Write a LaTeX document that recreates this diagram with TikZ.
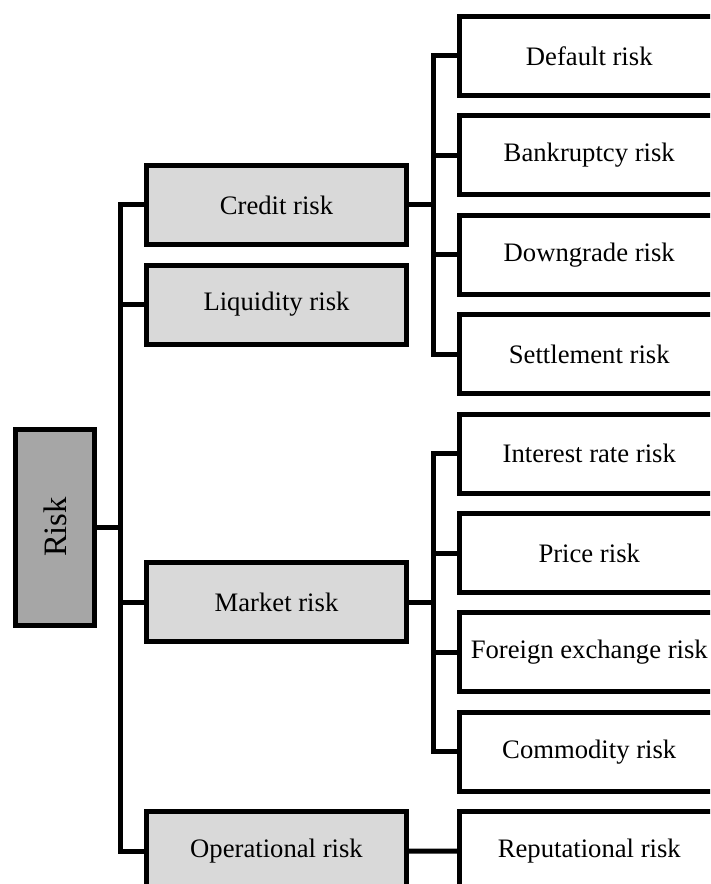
\documentclass[tikz,border=0pt]{standalone}
\usepackage{fontspec}
\setmainfont{Liberation Serif}
\definecolor{lvlone}{HTML}{D9D9D9}
\definecolor{rootgray}{HTML}{A6A6A6}
\begin{document}
\begin{tikzpicture}[x=0.75pt,y=-0.75pt,
  box/.style={draw=black,line width=3.75pt,minimum width=259.5*0.75pt,
    minimum height=79*0.75pt,inner sep=0pt,font=\fontsize{20}{24}\selectfont},
  leaf/.style={box,fill=white},
  branch/.style={box,fill=lvlone,minimum width=260*0.75pt},
  rootbox/.style={draw=black,line width=3.75pt,fill=rootgray,
    minimum width=79.5*0.75pt,minimum height=196*0.75pt,inner sep=0pt},
  conn/.style={draw=black,line width=3.75pt}]
\useasboundingbox (0,0) rectangle (710,884);
\clip (0,0) rectangle (710,884);

% root
\node[rootbox] (risk) at (55,527) {};
\node[rotate=90,font=\fontsize{24.5}{29}\selectfont] (risklabel) at (risk.center) {Risk};

% first level
\node[branch] (credit) at (276.5,205) {Credit risk};
\node[branch] (liquidity) at (276.5,304.5) {Liquidity risk};
\node[branch] (market) at (276.5,602) {Market risk};
\node[branch] (oper) at (276.5,851) {Operational risk};

% second level
\node[leaf] (default) at (589.25,56) {Default risk};
\node[leaf] (bankrupt) at (589.25,155.4) {Bankruptcy risk};
\node[leaf] (downgrade) at (589.25,254.8) {Downgrade risk};
\node[leaf] (settle) at (589.25,354.2) {Settlement risk};
\node[leaf] (interest) at (589.25,453.6) {Interest rate risk};
\node[leaf] (price) at (589.25,553) {Price risk};
\node[leaf] (forex) at (589.25,652.4) {Foreign exchange risk};
\node[leaf] (commodity) at (589.25,751.8) {Commodity risk};
\node[leaf] (reput) at (589.25,851.2) {Reputational risk};

% trunk positions
\coordinate (ltrunk) at (120.5,0);
\coordinate (rtrunk) at (433.5,0);

% root to first level
\draw[conn] (risk.east) -- (risk.east -| ltrunk);
\draw[conn] (credit.west) -- (credit.west -| ltrunk) |- (oper.west);
\draw[conn] (liquidity.west) -- (liquidity.west -| ltrunk);
\draw[conn] (market.west) -- (market.west -| ltrunk);

% credit risk branches
\draw[conn] (credit.east) -- (credit.east -| rtrunk);
\draw[conn] (default.west) -- (default.west -| rtrunk) |- (settle.west);
\draw[conn] (bankrupt.west) -- (bankrupt.west -| rtrunk);
\draw[conn] (downgrade.west) -- (downgrade.west -| rtrunk);

% market risk branches
\draw[conn] (market.east) -- (market.east -| rtrunk);
\draw[conn] (interest.west) -- (interest.west -| rtrunk) |- (commodity.west);
\draw[conn] (price.west) -- (price.west -| rtrunk);
\draw[conn] (forex.west) -- (forex.west -| rtrunk);

% operational risk branch
\draw[conn] (oper.east) -- (reput.west);
\end{tikzpicture}
\end{document}
